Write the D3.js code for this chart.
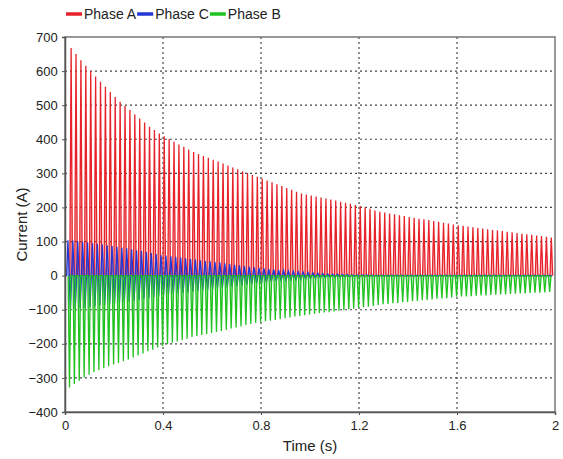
<!DOCTYPE html>
<html>
<head>
<meta charset="utf-8">
<script src="https://cdn.jsdelivr.net/npm/d3@7"></script>
<style>
  body { margin: 0; background: #fff; }
  svg { display: block; font-family: "Liberation Sans", Arial, sans-serif; }
</style>
</head>
<body>
<svg id="chart" width="563" height="459"></svg>
<script>
// Transformer inrush current, 50 Hz supply: one current pulse per cycle.
const period = 0.02;                 // s
const phaseAStart = 0.025;           // time of first Phase A peak (s)
const phaseBStart = 0.0183;          // time of first Phase B trough (s)
const phaseCStart = 0.012;           // time of first Phase C positive peak (s)

// Peak current of each cycle (A)
const phaseAPeaks = [
  668, 650, 632, 616, 600, 584, 569, 554, 539, 524,
  510, 498, 486, 473, 461, 449, 437, 427, 417, 409,
  401, 393, 385, 378, 370, 363, 357, 351, 346, 340,
  335, 329, 323, 317, 312, 306, 301, 295, 290, 285,
  279, 274, 268, 263, 257, 252, 246, 241, 238, 235,
  232, 229, 226, 223, 220, 217, 214, 211, 207, 204,
  200, 196, 191, 187, 185, 182, 180, 177, 175, 172,
  170, 167, 165, 163, 160, 158, 155, 153, 150, 148,
  146, 144, 142, 140, 138, 136, 134, 133, 131, 129,
  127, 125, 123, 121, 120, 118, 116, 114, 112
];

const phaseBTroughs = [
  -328, -318, -308, -299, -291, -283, -277, -272, -266, -261,
  -256, -251, -246, -240, -234, -228, -222, -217, -211, -206,
  -201, -197, -193, -189, -185, -180, -177, -174, -171, -168,
  -165, -162, -159, -155, -152, -149, -145, -142, -139, -136,
  -134, -132, -130, -127, -125, -123, -120, -118, -116, -114,
  -112, -110, -108, -107, -105, -103, -101, -99, -97, -95,
  -93, -91, -89, -86, -84, -83, -81, -80, -78, -77,
  -75, -74, -72, -71, -70, -68, -67, -66, -64, -62,
  -61, -61, -60, -59, -58, -58, -57, -56, -55, -55,
  -54, -53, -52, -52, -51, -50, -50, -49, -48
];

const phaseCPeaks = [
  104, 103, 101, 99, 97, 95, 93, 91, 89, 87,
  85, 82, 80, 77, 74, 72, 69, 66, 63, 60,
  58, 57, 55, 53, 51, 49, 47, 45, 43, 42,
  40, 38, 36, 34, 32, 30, 28, 26, 24, 22,
  21, 19, 18, 16, 15, 13, 12, 11, 10, 9,
  8, 7, 6, 5, 4, 4, 3, 3, 2, 2,
  2, 2, 2, 1, 1, 1, 1, 1, 1, 1,
  1, 1, 1, 1, 1, 1, 1, 1, 1, 1,
  1, 1, 1, 1, 1, 1, 1, 1, 1, 1,
  1, 1, 1, 1, 1, 1, 1, 1, 1
];

const phaseCTroughs = [
  -98, -97, -95, -94, -92, -90, -88, -86, -84, -82,
  -80, -78, -76, -73, -71, -68, -66, -63, -61, -58,
  -56, -54, -52, -51, -49, -47, -45, -43, -42, -40,
  -38, -36, -35, -33, -31, -29, -27, -25, -23, -21,
  -20, -18, -17, -15, -14, -13, -12, -11, -10, -9,
  -8, -7, -6, -5, -4, -4, -3, -3, -2, -2,
  -2, -2, -1, -1, -1, -1, -1, -1, -1, -1,
  -1, -1, -1, -1, -1, -1, -1, -1, -1, -1,
  -1, -1, -1, -1, -1, -1, -1, -1, -1, -1,
  -1, -1, -1, -1, -1, -1, -1, -1, -1
];

const xTicks = [0, 0.4, 0.8, 1.2, 1.6, 2];
const yTicks = [-400, -300, -200, -100, 0, 100, 200, 300, 400, 500, 600, 700];

const legendItems = [
  { name: "Phase A", color: "#e8222a" },
  { name: "Phase C", color: "#2437d6" },
  { name: "Phase B", color: "#1fc21f" }
];

// ---- layout ----
const W = 563, H = 459;
const margin = { top: 37, right: 8, bottom: 47, left: 65 };
const iw = W - margin.left - margin.right;
const ih = H - margin.top - margin.bottom;

const svg = d3.select("#chart");
const g = svg.append("g").attr("transform", `translate(${margin.left},${margin.top})`);

const x = d3.scaleLinear().domain([0, 2]).range([0, iw]);
const y = d3.scaleLinear().domain([-400, 700]).range([ih, 0]);

// clip for waveforms
svg.append("defs").append("clipPath").attr("id", "plotClip")
  .append("rect").attr("width", iw).attr("height", ih);

// ---- grid ----
const grid = g.append("g").attr("class", "grid");
grid.selectAll("line.h").data(yTicks.filter(v => v > -400 && v < 700)).join("line")
  .attr("class", "h")
  .attr("x1", 0).attr("x2", iw)
  .attr("y1", d => y(d)).attr("y2", d => y(d))
  .attr("stroke", "#444").attr("stroke-width", 1.2).attr("stroke-dasharray", "2,3");
grid.selectAll("line.v").data(xTicks.filter(v => v > 0 && v < 2)).join("line")
  .attr("class", "v")
  .attr("y1", 0).attr("y2", ih)
  .attr("x1", d => x(d)).attr("x2", d => x(d))
  .attr("stroke", "#444").attr("stroke-width", 1.2).attr("stroke-dasharray", "2,3");

// ---- waveforms: one narrow current pulse per cycle ----
const halfWidth = 0.0055; // half base width of a pulse (s)

function pulses(values, start) {
  const pts = [];
  values.forEach((v, i) => {
    const tp = start + i * period;
    pts.push([tp - halfWidth, 0], [tp, v], [tp + halfWidth, 0]);
  });
  return pts;
}

const line = d3.line().x(d => x(d[0])).y(d => y(d[1]));
const waves = g.append("g").attr("clip-path", "url(#plotClip)");

function drawWave(pts, color) {
  waves.append("path")
    .attr("d", line(pts))
    .attr("fill", color).attr("fill-opacity", 0.35)
    .attr("stroke", color).attr("stroke-width", 1.3);
}

// Phase A
drawWave(pulses(phaseAPeaks, phaseAStart), legendItems[0].color);

// Phase C (positive and negative pulse each cycle)
const cPts = [];
phaseCPeaks.forEach((v, i) => {
  const tp = phaseCStart + i * period;
  const tn = tp + period / 2;
  cPts.push([tp - halfWidth, 0], [tp, v], [tp + halfWidth, 0],
            [tn - halfWidth, 0], [tn, phaseCTroughs[i]], [tn + halfWidth, 0]);
});
drawWave(cPts, legendItems[1].color);

// Phase B
drawWave(pulses(phaseBTroughs, phaseBStart), legendItems[2].color);

// ---- frame ----
g.append("rect").attr("width", iw).attr("height", ih)
  .attr("fill", "none").attr("stroke", "#777").attr("stroke-width", 1.5);

// ---- axes ----
const xAxis = g.append("g").attr("transform", `translate(0,${ih})`)
  .call(d3.axisBottom(x).tickValues(xTicks).tickSize(3).tickFormat(d3.format("")));
const yAxis = g.append("g")
  .call(d3.axisLeft(y).tickValues(yTicks).tickSize(3).tickFormat(d3.format("")));

[xAxis, yAxis].forEach(a => {
  a.select(".domain").attr("stroke", "#555").attr("stroke-width", 1.5);
  a.selectAll(".tick line").attr("stroke", "#555");
  a.selectAll(".tick text").attr("fill", "#222").attr("font-size", 13)
    .attr("font-family", "'Liberation Sans', Arial, sans-serif");
});
xAxis.selectAll(".tick text").attr("dy", "0.9em");
yAxis.selectAll(".tick text").attr("dx", "-0.1em");

// axis titles
svg.append("text")
  .attr("x", margin.left + iw / 2).attr("y", 451)
  .attr("text-anchor", "middle").attr("font-size", 15).attr("fill", "#222")
  .text("Time (s)");
svg.append("text")
  .attr("transform", `translate(27,${margin.top + ih / 2}) rotate(-90)`)
  .attr("text-anchor", "middle").attr("font-size", 15).attr("fill", "#222")
  .text("Current (A)");

// ---- legend ----
const legend = svg.append("g").attr("transform", "translate(66,14)");
let lx = 0;
legendItems.forEach(item => {
  legend.append("line")
    .attr("x1", lx).attr("x2", lx + 16).attr("y1", 0).attr("y2", 0)
    .attr("stroke", item.color).attr("stroke-width", 3.5);
  const t = legend.append("text")
    .attr("x", lx + 18).attr("y", 5)
    .attr("font-size", 14).attr("fill", "#222")
    .text(item.name);
  lx += 18 + t.node().getComputedTextLength() + 1;
});
</script>
</body>
</html>
